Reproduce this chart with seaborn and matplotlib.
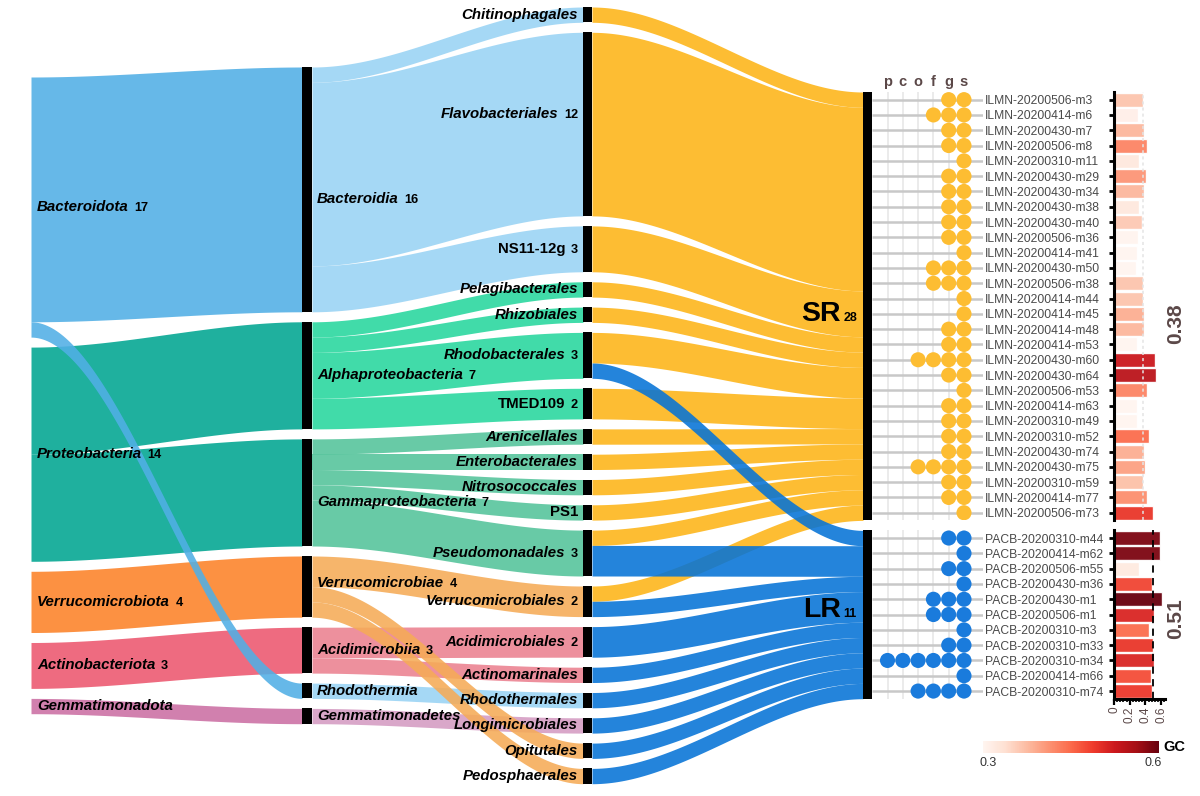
import numpy as np
import pandas as pd
import matplotlib
matplotlib.use("Agg")
import matplotlib.pyplot as plt
import seaborn as sns
from matplotlib.offsetbox import TextArea, HPacker, AnnotationBbox
from matplotlib.colors import Normalize, to_rgb
from matplotlib.cm import ScalarMappable
from matplotlib.patches import Rectangle
from matplotlib.ticker import MultipleLocator

sns.set_theme(style="white")
plt.rcParams["font.family"] = ["Liberation Sans", "DejaVu Sans"]

# ---------------- data ----------------
phyla = ["Bacteroidota", "Proteobacteria", "Verrucomicrobiota", "Actinobacteriota", "Gemmatimonadota"]
phylum_colors = ["#66b9e8", "#19b09e", "#fc9142", "#ee6b7f", "#d17fae"]

classes = ["Bacteroidia", "Alphaproteobacteria", "Gammaproteobacteria", "Verrucomicrobiae",
           "Acidimicrobiia", "Rhodothermia", "Gemmatimonadetes"]
class_phylum = ["Bacteroidota", "Proteobacteria", "Proteobacteria", "Verrucomicrobiota",
                "Actinobacteriota", "Bacteroidota", "Gemmatimonadota"]
class_colors = ["#a5d8f5", "#40dca9", "#68caa6", "#f6b56b", "#ed909d", "#a5d8f5", "#d9a7c9"]

orders = ["Chitinophagales", "Flavobacteriales", "NS11-12g", "Pelagibacterales", "Rhizobiales",
          "Rhodobacterales", "TMED109", "Arenicellales", "Enterobacterales", "Nitrosococcales", "PS1",
          "Pseudomonadales", "Verrucomicrobiales", "Acidimicrobiales", "Actinomarinales",
          "Rhodothermales", "Longimicrobiales", "Opitutales", "Pedosphaerales"]
order_class = ["Bacteroidia", "Bacteroidia", "Bacteroidia", "Alphaproteobacteria", "Alphaproteobacteria",
               "Alphaproteobacteria", "Alphaproteobacteria", "Gammaproteobacteria", "Gammaproteobacteria",
               "Gammaproteobacteria", "Gammaproteobacteria", "Gammaproteobacteria", "Verrucomicrobiae",
               "Acidimicrobiia", "Acidimicrobiia", "Rhodothermia", "Gemmatimonadetes",
               "Verrucomicrobiae", "Verrucomicrobiae"]
order_sr = [1, 12, 3, 1, 1, 2, 2, 1, 1, 1, 1, 1, 1, 0, 0, 0, 0, 0, 0]
order_lr = [0, 0, 0, 0, 0, 1, 0, 0, 0, 0, 0, 2, 1, 2, 1, 1, 1, 1, 1]
plain_names = ["NS11-12g", "TMED109", "PS1"]

groups = ["SR", "LR"]
group_colors = ["#fdbd32", "#2384dc"]
dot_colors = ["#fdbd32", "#1a7bdc"]

levels = ["p", "c", "o", "f", "g", "s"]

sr_mags = ["ILMN-20200506-m3", "ILMN-20200414-m6", "ILMN-20200430-m7", "ILMN-20200506-m8",
           "ILMN-20200310-m11", "ILMN-20200430-m29", "ILMN-20200430-m34", "ILMN-20200430-m38",
           "ILMN-20200430-m40", "ILMN-20200506-m36", "ILMN-20200414-m41", "ILMN-20200430-m50",
           "ILMN-20200506-m38", "ILMN-20200414-m44", "ILMN-20200414-m45", "ILMN-20200414-m48",
           "ILMN-20200414-m53", "ILMN-20200430-m60", "ILMN-20200430-m64", "ILMN-20200506-m53",
           "ILMN-20200414-m63", "ILMN-20200310-m49", "ILMN-20200310-m52", "ILMN-20200430-m74",
           "ILMN-20200430-m75", "ILMN-20200310-m59", "ILMN-20200414-m77", "ILMN-20200506-m73"]
sr_levels = ["gs", "fgs", "gs", "gs", "s", "gs", "gs", "gs", "gs", "gs", "s", "fgs", "fgs", "s",
             "s", "gs", "gs", "ofgs", "gs", "s", "gs", "gs", "gs", "gs", "ofgs", "gs", "gs", "s"]
sr_gc = [0.366, 0.311, 0.379, 0.426, 0.323, 0.409, 0.379, 0.323, 0.362, 0.302, 0.298, 0.277,
         0.366, 0.366, 0.387, 0.379, 0.298, 0.524, 0.541, 0.426, 0.294, 0.290, 0.447, 0.387,
         0.400, 0.370, 0.417, 0.494]

lr_mags = ["PACB-20200310-m44", "PACB-20200414-m62", "PACB-20200506-m55", "PACB-20200430-m36",
           "PACB-20200430-m1", "PACB-20200506-m1", "PACB-20200310-m3", "PACB-20200310-m33",
           "PACB-20200310-m34", "PACB-20200414-m66", "PACB-20200310-m74"]
lr_levels = ["gs", "s", "gs", "s", "fgs", "fgs", "s", "gs", "pcofgs", "s", "ofgs"]
lr_gc = [0.587, 0.587, 0.320, 0.480, 0.617, 0.510, 0.447, 0.494, 0.510, 0.473, 0.490]

mean_labels = ["0.38", "0.51"]
gc_limits = [0.3, 0.6]

# ---------------- layout ----------------
W, H = 1200, 796
SCALE, GAP = 15.3, 10
ALPHA = 0.88
col_top = {"phylum": 77, "class": 67, "order": 7, "group": 92}
X_PHY = 31
X_CLS = (302, 312)
X_ORD = (583, 592)
X_GRP = (863, 872)
label_dy = {"Bacteroidia": 10, "Gammaproteobacteria": 10, "Verrucomicrobiae": -4,
            "Flavobacteriales": -10, "SR": 8, "LR": -5}


def deblend(c, a=ALPHA):
    r = np.array(to_rgb(c))
    return tuple(np.clip((r - (1 - a)) / a, 0, 1))


def stack(counts, top):
    pos, y = [], top
    for c in counts:
        pos.append([y, y + c * SCALE])
        y += c * SCALE + GAP
    return pos


order_counts = [a + b for a, b in zip(order_sr, order_lr)]
class_counts = [sum(c for c, oc in zip(order_counts, order_class) if oc == cl) for cl in classes]
phylum_counts = [sum(c for c, cp in zip(class_counts, class_phylum) if cp == p) for p in phyla]
group_counts = [sum(order_sr), sum(order_lr)]

phy_pos = stack(phylum_counts, col_top["phylum"])
cls_pos = stack(class_counts, col_top["class"])
ord_pos = stack(order_counts, col_top["order"])
grp_pos = stack(group_counts, col_top["group"])

fig = plt.figure(figsize=(W / 100, H / 100), dpi=100)
ax = fig.add_axes([0, 0, 1, 1])
ax.set_xlim(0, W)
ax.set_ylim(H, 0)
ax.axis("off")


def ribbon(x0, x1, s0, s1, t0, t1, color):
    xs = np.linspace(x0, x1, 120)
    t = (xs - x0) / (x1 - x0)
    s = t * t * (3 - 2 * t)
    top = s0 + (t0 - s0) * s
    bot = s1 + (t1 - s1) * s
    ax.fill_between(xs, top, bot, color=deblend(color), alpha=ALPHA, lw=0, zorder=1)


# phylum -> class
off = {i: phy_pos[i][0] for i in range(len(phyla))}
for j, cl in enumerate(classes):
    pi = phyla.index(class_phylum[j])
    v = class_counts[j] * SCALE
    ribbon(X_PHY, X_CLS[0], off[pi], off[pi] + v, cls_pos[j][0], cls_pos[j][1], phylum_colors[pi])
    off[pi] += v

# class -> order
off = {j: cls_pos[j][0] for j in range(len(classes))}
for k, od in enumerate(orders):
    j = classes.index(order_class[k])
    v = order_counts[k] * SCALE
    ribbon(X_CLS[1], X_ORD[0], off[j], off[j] + v, ord_pos[k][0], ord_pos[k][1], class_colors[j])
    off[j] += v

# order -> group
off_o = {k: ord_pos[k][0] for k in range(len(orders))}
for g, vals in enumerate([order_sr, order_lr]):
    off_g = grp_pos[g][0]
    for k, val in enumerate(vals):
        if val == 0:
            continue
        v = val * SCALE
        ribbon(X_ORD[1], X_GRP[0], off_o[k], off_o[k] + v, off_g, off_g + v, group_colors[g])
        off_o[k] += v
        off_g += v

# node bars
for (x0, x1), pos in [(X_CLS, cls_pos), (X_ORD, ord_pos), (X_GRP, grp_pos)]:
    for y0, y1 in pos:
        ax.add_patch(Rectangle((x0, y0), x1 - x0, y1 - y0, color="black", lw=0, zorder=3))


def node_label(x, y, name, count, ha, size=10.8, csize=9.2, italic=True, sep=4):
    kids = [TextArea(name, textprops=dict(fontsize=size, fontweight="bold",
                                          fontstyle="italic" if italic else "normal", color="black"))]
    if count > 1:
        kids.append(TextArea(str(count), textprops=dict(fontsize=csize, fontweight="bold", color="black")))
    box = HPacker(children=kids, align="baseline", pad=0, sep=sep)
    ab = AnnotationBbox(box, (x, y + label_dy.get(name, 0)), xycoords="data",
                        box_alignment=(0 if ha == "left" else 1, 0.5), frameon=False, pad=0, zorder=5)
    ax.add_artist(ab)


for i, p in enumerate(phyla):
    node_label(37, sum(phy_pos[i]) / 2, p, phylum_counts[i], "left")
for j, c in enumerate(classes):
    node_label(317, sum(cls_pos[j]) / 2, c, class_counts[j], "left")
for k, o in enumerate(orders):
    node_label(578, sum(ord_pos[k]) / 2, o, order_counts[k], "right", italic=o not in plain_names)
for g, gname in enumerate(groups):
    node_label(857, sum(grp_pos[g]) / 2, gname, group_counts[g], "right", size=20.5, csize=9,
               italic=False, sep=2)

# ---------------- right panels ----------------
cmap = plt.get_cmap("Reds")
norm = Normalize(*gc_limits)


def fr(x0, y0, x1, y1):
    return [x0 / W, 1 - y1 / H, (x1 - x0) / W, (y1 - y0) / H]


COL_X0, COL_DX = 887.5, 15.3
DOT_L, DOT_R = 872, 983
XL = (DOT_L - COL_X0) / COL_DX
XR = (DOT_R - COL_X0) / COL_DX
TEXT_C = "#5b4848"

panel = [(sr_mags, sr_levels, sr_gc), (lr_mags, lr_levels, lr_gc)]
for g, (mags, lvls, gc) in enumerate(panel):
    y0, y1 = grp_pos[g]
    n = len(mags)
    axd = fig.add_axes(fr(DOT_L, y0, DOT_R, y1))
    axd.patch.set_alpha(0)
    axd.vlines(range(len(levels)), -0.5, n - 0.5, color="#e6e6e6", lw=1.1, zorder=0)
    axd.hlines(range(n), XL, XR, color="#c8c8c8", lw=1.8, zorder=1)
    df = pd.DataFrame([(i, levels.index(ch)) for i, lv in enumerate(lvls) for ch in lv],
                      columns=["row", "col"])
    sns.scatterplot(data=df, x="col", y="row", color=dot_colors[g], s=118, edgecolor="none",
                    linewidth=0, ax=axd, zorder=3, legend=False)
    axd.set_xlim(XL, XR)
    axd.set_ylim(n - 0.5, -0.5)
    axd.set_yticks(range(n))
    axd.set_yticklabels(mags, fontsize=8.7, color="#4a4a4a")
    axd.yaxis.tick_right()
    axd.tick_params(axis="y", length=0, pad=1.5, right=False)
    axd.set_xticks([])
    axd.set_xlabel("")
    axd.set_ylabel("")
    for sp in axd.spines.values():
        sp.set_visible(False)
    if g == 0:
        for i, ch in enumerate(levels):
            axd.text(i, -0.9, ch, ha="center", va="baseline", fontsize=10.5, fontweight="bold",
                     color=TEXT_C)

    axb = fig.add_axes(fr(1114, y0, 1165, y1))
    axb.patch.set_alpha(0)
    dfb = pd.DataFrame({"mag": mags, "gc": gc})
    pal = {m: cmap(norm(v)) for m, v in zip(mags, gc)}
    sns.barplot(data=dfb, x="gc", y="mag", hue="mag", palette=pal, legend=False, orient="h",
                width=0.92, saturation=1, ax=axb, alpha=0.95, zorder=2)
    axb.set_xlim(0, 0.65)
    axb.set_ylim(n - 0.5, -0.5)
    med = float(np.median(gc))
    if g == 0:
        axb.axvline(med, color="#e4e4e4", ls=(0, (2, 2)), lw=1.1, zorder=3)
    else:
        axb.axvline(med, color="black", ls=(0, (4, 3)), lw=1.3, zorder=3)
    axb.set_xlabel("")
    axb.set_ylabel("")
    axb.spines["top"].set_visible(False)
    axb.spines["right"].set_visible(False)
    axb.spines["left"].set_linewidth(2.2)
    axb.spines["left"].set_color("black")
    axb.tick_params(axis="y", left=True, length=3.5, width=2, color="black", labelleft=False)
    if g == 1:
        axb.spines["bottom"].set_linewidth(2.2)
        axb.spines["bottom"].set_color("black")
        axb.set_xticks([0, 0.2, 0.4, 0.6])
        axb.set_xticklabels(["0", "0.2", "0.4", "0.6"], rotation=90)
        axb.xaxis.set_minor_locator(MultipleLocator(0.04))
        axb.tick_params(axis="x", which="major", bottom=True, length=4.5, width=1.6, color="black",
                        labelsize=8.5, labelcolor=TEXT_C, pad=1)
        axb.tick_params(axis="x", which="minor", bottom=True, length=2.5, width=1.2, color="black")
    else:
        axb.spines["bottom"].set_visible(False)
        axb.set_xticks([])
    yc = (y0 + y1) / 2 + (17 if g == 0 else 4)
    ax.text(1176, yc, mean_labels[g], rotation=90, ha="center", va="center", fontsize=15,
            fontweight="bold", color=TEXT_C, zorder=6)

# colour bar
cax = fig.add_axes(fr(983, 741, 1159, 753))
sm = ScalarMappable(norm=Normalize(gc_limits[0] - 0.01, gc_limits[1] + 0.01), cmap=cmap)
cb = fig.colorbar(sm, cax=cax, orientation="horizontal", ticks=gc_limits)
cb.set_ticklabels([f"{v:.1f}" for v in gc_limits])
cb.outline.set_visible(False)
cax.tick_params(length=0, labelsize=9, pad=3, labelcolor="#333333")
ax.text(1163, 747, "GC", ha="left", va="center", fontsize=10.5, fontweight="bold", color="black")

fig.savefig("out.png", dpi=100)
